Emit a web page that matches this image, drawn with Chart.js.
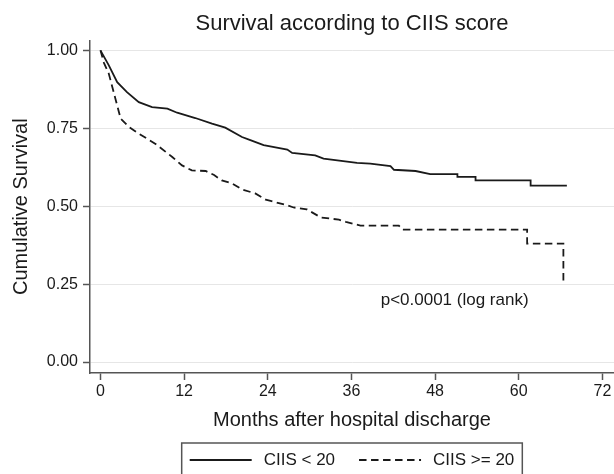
<!DOCTYPE html>
<html>
<head>
<meta charset="utf-8">
<title>Survival according to CIIS score</title>
<script src="https://cdn.jsdelivr.net/npm/chart.js@4.4.1/dist/chart.umd.min.js"></script>
<style>
  html, body { margin: 0; padding: 0; background: #fff; }
</style>
</head>
<body>
<canvas id="chKM" width="614" height="474"></canvas>
<script>
// Kaplan-Meier values (months, cumulative survival)
const monthsLow = [0, 0.4, 1.2, 2.4, 3.8, 5.5, 7.4, 9.6, 11, 13.6, 16, 17.9, 20.3, 21.5, 23.4, 26.8, 27.5, 30.8, 32, 36.8, 38.7, 41.6, 42.1, 45.2, 47.3, 51.2, 51.2, 53.8, 53.8, 61.7, 61.7, 66.9];
const survLow = [1.0, 0.984, 0.952, 0.898, 0.866, 0.834, 0.818, 0.813, 0.80, 0.783, 0.765, 0.752, 0.722, 0.712, 0.696, 0.682, 0.671, 0.663, 0.653, 0.639, 0.637, 0.629, 0.617, 0.613, 0.603, 0.603, 0.594, 0.594, 0.583, 0.583, 0.566, 0.566];

const monthsHigh = [0, 0.5, 1.2, 2.2, 2.9, 4.1, 5.5, 7.9, 10.3, 11.7, 13.1, 15.1, 16.3, 17.4, 18.9, 20.3, 22.2, 23.7, 24.4, 26.8, 27.7, 29.6, 31.6, 34.2, 35.2, 37.3, 42.8, 43.3, 61.2, 61.2, 66.4, 66.4];
const survHigh = [1.0, 0.96, 0.925, 0.84, 0.781, 0.754, 0.733, 0.70, 0.658, 0.631, 0.615, 0.613, 0.60, 0.583, 0.573, 0.554, 0.541, 0.521, 0.517, 0.503, 0.496, 0.49, 0.464, 0.457, 0.45, 0.438, 0.438, 0.425, 0.425, 0.38, 0.38, 0.257];

const seriesLabels = ['CIIS < 20', 'CIIS >= 20'];
const xTicks = [0, 12, 24, 36, 48, 60, 72];
const yTicks = [0, 0.25, 0.5, 0.75, 1];
const pNote = 'p<0.0001 (log rank)';
const pNoteAt = { x: 50.8, y: 0.199 };

const FONT = "'Liberation Sans', Arial, Helvetica, sans-serif";
const INK = '#1a1a1a';
const AXIS = '#555';

Chart.defaults.font.family = FONT;
Chart.defaults.color = INK;

function toPoints(xs, ys) { return xs.map((x, i) => ({ x, y: ys[i] })); }

// p-value note, placed in data coordinates
const pValueNote = {
    id: 'pValueNote',
    afterDatasetsDraw(chart) {
        const { ctx, scales } = chart;
        ctx.save();
        ctx.font = `17px ${FONT}`;
        ctx.fillStyle = INK;
        ctx.textAlign = 'center';
        ctx.textBaseline = 'middle';
        ctx.fillText(pNote, scales.x.getPixelForValue(pNoteAt.x), scales.y.getPixelForValue(pNoteAt.y));
        ctx.restore();
    }
};

// Boxed legend under the x axis (line sample + label)
const boxLegend = {
    id: 'boxLegend',
    afterDraw(chart) {
        const { ctx, chartArea } = chart;
        const pad = 8, lineLen = 62, gap = 12, itemGap = 24;
        ctx.save();
        ctx.font = `17px ${FONT}`;
        const items = chart.data.datasets.map(ds => ({
            label: ds.label, dash: ds.borderDash || [], color: ds.borderColor,
            width: ctx.measureText(ds.label).width
        }));
        const total = pad * 2 + items.reduce((s, it) => s + lineLen + gap + it.width, 0) + itemGap * (items.length - 1);
        const left = (chartArea.left + chartArea.right) / 2 - total / 2;
        const top = chart.scales.x.bottom;
        const cy = top + 17;

        ctx.strokeStyle = AXIS;
        ctx.lineWidth = 1.5;
        ctx.strokeRect(left, top, total, 60);

        let x = left + pad;
        items.forEach(it => {
            ctx.beginPath();
            ctx.setLineDash(it.dash);
            ctx.strokeStyle = it.color;
            ctx.lineWidth = 1.8;
            ctx.moveTo(x, cy);
            ctx.lineTo(x + lineLen, cy);
            ctx.stroke();
            ctx.setLineDash([]);
            x += lineLen + gap;
            ctx.fillStyle = INK;
            ctx.textAlign = 'left';
            ctx.textBaseline = 'middle';
            ctx.fillText(it.label, x, cy);
            x += it.width + itemGap;
        });
        ctx.restore();
    }
};

new Chart(document.getElementById('chKM'), {
    type: 'line',
    data: {
        datasets: [{
            label: seriesLabels[0],
            data: toPoints(monthsLow, survLow),
            borderColor: INK,
            borderWidth: 1.8,
            pointRadius: 0,
            tension: 0
        }, {
            label: seriesLabels[1],
            data: toPoints(monthsHigh, survHigh),
            borderColor: INK,
            borderWidth: 1.8,
            borderDash: [7.5, 4.5],
            pointRadius: 0,
            tension: 0
        }]
    },
    options: {
        responsive: false,
        animation: false,
        devicePixelRatio: 1,
        layout: { padding: { left: 0, right: 0, top: 0, bottom: 31 } },
        plugins: {
            legend: { display: false },
            tooltip: { enabled: false },
            title: {
                display: true,
                text: 'Survival according to CIIS score',
                fullSize: false,
                color: INK,
                font: { size: 22, weight: 'normal' },
                padding: { top: 11, bottom: 3 }
            }
        },
        scales: {
            x: {
                type: 'linear',
                min: -1.5,
                max: 73.66,
                afterBuildTicks: s => { s.ticks = xTicks.map(v => ({ value: v })); },
                afterFit: s => { s.height = 70; },
                ticks: { padding: 2, color: INK, font: { size: 16 }, maxRotation: 0 },
                grid: { drawOnChartArea: false, tickLength: 7, tickColor: AXIS, tickWidth: 1.5 },
                border: { color: AXIS, width: 1.5 },
                title: {
                    display: true,
                    text: 'Months after hospital discharge',
                    color: INK,
                    font: { size: 20 },
                    padding: { top: 0, bottom: 10.5 }
                }
            },
            y: {
                type: 'linear',
                min: -0.035,
                max: 1.032,
                afterBuildTicks: s => { s.ticks = yTicks.map(v => ({ value: v })); },
                afterFit: s => { s.width = 90; },
                ticks: { padding: 5, color: INK, font: { size: 16 }, callback: v => Number(v).toFixed(2) },
                grid: { color: '#e6e6e6', lineWidth: 1, tickLength: 7, tickColor: AXIS, tickWidth: 1.5 },
                border: { color: AXIS, width: 1.5 },
                title: {
                    display: true,
                    text: 'Cumulative Survival',
                    color: INK,
                    font: { size: 20 },
                    padding: { top: 9.5, bottom: 0 }
                }
            }
        }
    },
    plugins: [pValueNote, boxLegend]
});
</script>
</body>
</html>
